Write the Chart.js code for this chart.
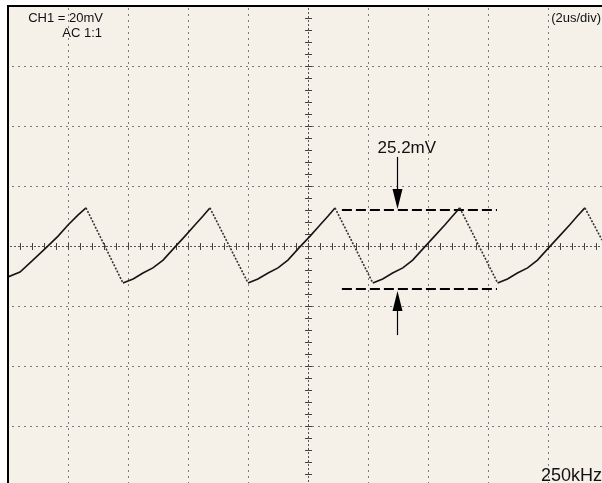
<!DOCTYPE html>
<html>
<head>
<meta charset="utf-8">
<script src="https://cdn.jsdelivr.net/npm/chart.js@4/dist/chart.umd.min.js"></script>
<style>
  html, body { margin: 0; padding: 0; background: #ffffff; overflow: hidden; }
  #wrap { position: absolute; left: 0; top: 0; width: 620px; height: 500px; }
</style>
</head>
<body>
<div id="wrap"><canvas id="c" width="620" height="500"></canvas></div>
<script>
// ---- data (time in µs, voltage in mV) ----
const timeUs = [
  0.00, 0.40, 0.83, 1.30, 1.67, 2.00, 2.33, 2.60,
  3.83, 4.17, 4.50, 4.83, 5.17, 5.57, 5.90, 6.23, 6.50, 6.73,
  8.00, 8.33, 8.67, 9.00, 9.33, 9.73, 10.07, 10.40, 10.67, 10.90,
  12.16, 12.49, 12.82, 13.16, 13.49, 13.89, 14.22, 14.56, 14.82, 15.06,
  16.32, 16.65, 16.98, 17.32, 17.65, 18.05, 18.38, 18.72, 18.98, 19.23,
  19.80
];
const voltMv = [
  -10.3, -8.7, -4.7, -0.3, 3.3, 7.0, 10.3, 12.7,
  -12.3, -11.0, -9.0, -7.3, -4.7, -0.3, 3.3, 7.0, 10.0, 12.7,
  -12.3, -11.0, -9.0, -7.3, -4.7, -0.3, 3.3, 7.0, 10.0, 12.7,
  -12.3, -11.0, -9.0, -7.3, -4.7, -0.3, 3.3, 7.0, 10.0, 12.7,
  -12.3, -11.0, -9.0, -7.3, -4.7, -0.3, 3.3, 7.0, 10.0, 12.7,
  2.0
];
// measurement cursors
const cursorSpanUs = [11.13, 16.30];
const cursorTopMv = 12.0;
const cursorBottomMv = -14.3;
const arrowXUs = 12.97;
const arrowTopFromMv = 29.7;
const arrowBottomFromMv = -29.7;
const measureLabel = '25.2mV';
// screen settings
const xRangeUs = [0, 20];      // 2us/div, 10 div
const yRangeMv = [-80, 80];    // 20mV/div, 8 div
const xDivUs = 2, yDivMv = 20;
const labels = { ch: 'CH1 = 20mV', coupling: 'AC 1:1', timebase: '(2us/div)', freq: '250kHz' };

const tracePoints = timeUs.map((t, i) => ({ x: t, y: voltMv[i] }));
const topCursor = cursorSpanUs.map(t => ({ x: t, y: cursorTopMv }));
const bottomCursor = cursorSpanUs.map(t => ({ x: t, y: cursorBottomMv }));

const FONT = '"Liberation Sans", Arial, sans-serif';

const scopePlugin = {
  id: 'scope',
  beforeDatasetsDraw(chart) {
    const { ctx, chartArea: a, scales: { x, y } } = chart;
    ctx.save();
    ctx.fillStyle = '#f5f1e9';
    ctx.fillRect(a.left, a.top, a.right - a.left, a.bottom - a.top);
    const cx = Math.round(x.getPixelForValue((xRangeUs[0] + xRangeUs[1]) / 2));
    const cy = Math.round(y.getPixelForValue(0));
    // dotted major grid
    ctx.strokeStyle = '#7a7a7a';
    ctx.lineWidth = 1;
    ctx.setLineDash([2, 4]);
    for (let t = xRangeUs[0] + xDivUs; t < xRangeUs[1] + 0.001; t += xDivUs) {
      const px = Math.round(x.getPixelForValue(t)) + 0.5;
      if (Math.abs(px - 0.5 - cx) < 1) continue;
      ctx.beginPath(); ctx.moveTo(px, a.top + 2); ctx.lineTo(px, a.bottom); ctx.stroke();
    }
    for (let v = yRangeMv[0] + yDivMv; v < yRangeMv[1]; v += yDivMv) {
      const py = Math.round(y.getPixelForValue(v)) + 0.5;
      if (Math.abs(py - 0.5 - cy) < 1) continue;
      ctx.beginPath(); ctx.moveTo(a.left + 4, py); ctx.lineTo(a.right, py); ctx.stroke();
    }
    // center cross, denser dots
    ctx.strokeStyle = '#555';
    ctx.setLineDash([2, 2]);
    ctx.beginPath(); ctx.moveTo(cx + 0.5, a.top + 2); ctx.lineTo(cx + 0.5, a.bottom); ctx.stroke();
    ctx.beginPath(); ctx.moveTo(a.left + 2, cy + 0.5); ctx.lineTo(a.right, cy + 0.5); ctx.stroke();
    // minor ticks on the center cross (5 per division)
    ctx.setLineDash([]);
    ctx.strokeStyle = '#444';
    for (let t = xRangeUs[0]; t <= xRangeUs[1] + 0.001; t += xDivUs / 5) {
      const px = Math.round(x.getPixelForValue(t)) + 0.5;
      ctx.beginPath(); ctx.moveTo(px, cy - 3); ctx.lineTo(px, cy + 4); ctx.stroke();
    }
    for (let v = yRangeMv[0]; v <= yRangeMv[1] + 0.001; v += yDivMv / 5) {
      const py = Math.round(y.getPixelForValue(v)) + 0.5;
      ctx.beginPath(); ctx.moveTo(cx - 3, py); ctx.lineTo(cx + 4, py); ctx.stroke();
    }
    ctx.restore();
  },
  afterDatasetsDraw(chart) {
    const { ctx, chartArea: a, scales: { x, y } } = chart;
    ctx.save();
    // arrows
    const ax = Math.round(x.getPixelForValue(arrowXUs)) + 0.5;
    const topTip = y.getPixelForValue(cursorTopMv) - 1;
    const botTip = y.getPixelForValue(cursorBottomMv) + 2;
    ctx.strokeStyle = '#000'; ctx.fillStyle = '#000'; ctx.lineWidth = 1.2;
    ctx.beginPath(); ctx.moveTo(ax, y.getPixelForValue(arrowTopFromMv)); ctx.lineTo(ax, topTip - 18); ctx.stroke();
    ctx.beginPath(); ctx.moveTo(ax - 5, topTip - 20); ctx.lineTo(ax + 5, topTip - 20); ctx.lineTo(ax, topTip); ctx.closePath(); ctx.fill();
    ctx.beginPath(); ctx.moveTo(ax, y.getPixelForValue(arrowBottomFromMv)); ctx.lineTo(ax, botTip + 18); ctx.stroke();
    ctx.beginPath(); ctx.moveTo(ax - 5, botTip + 20); ctx.lineTo(ax + 5, botTip + 20); ctx.lineTo(ax, botTip); ctx.closePath(); ctx.fill();
    // measurement text
    ctx.fillStyle = '#111';
    ctx.textBaseline = 'alphabetic';
    ctx.font = '17px ' + FONT;
    ctx.textAlign = 'left';
    ctx.fillText(measureLabel, ax - 20, topTip - 56);
    // on-screen labels
    ctx.font = '13px ' + FONT;
    ctx.textAlign = 'right';
    ctx.fillText(labels.ch, a.left + 95, a.top + 16);
    ctx.fillText(labels.coupling, a.left + 94, a.top + 31);
    ctx.fillText(labels.timebase, a.left + 593, a.top + 16);
    ctx.font = '18px ' + FONT;
    ctx.fillText(labels.freq, a.left + 594, a.top + 475);
    // frame (left and top edges)
    ctx.fillStyle = '#000';
    ctx.fillRect(a.left - 1, a.top - 1, 2, a.bottom - a.top + 1);
    ctx.fillRect(a.left - 1, a.top - 1, a.right - a.left + 1, 2);
    ctx.restore();
  }
};

new Chart(document.getElementById('c'), {
  type: 'line',
  data: {
    datasets: [
      {
        data: tracePoints,
        borderColor: '#151515',
        borderWidth: 1.6,
        pointRadius: 0,
        tension: 0,
        segment: {
          borderDash: c => (c.p1.parsed.y < c.p0.parsed.y ? [2, 1.5] : undefined),
          borderColor: c => (c.p1.parsed.y < c.p0.parsed.y ? '#333' : undefined)
        }
      },
      { data: topCursor, borderColor: '#000', borderWidth: 2, borderDash: [10, 4], pointRadius: 0 },
      { data: bottomCursor, borderColor: '#000', borderWidth: 2, borderDash: [10, 4], pointRadius: 0 }
    ]
  },
  options: {
    responsive: false,
    animation: false,
    events: [],
    layout: { padding: { left: 8, top: 6, right: 12, bottom: 14 } },
    plugins: { legend: { display: false }, tooltip: { enabled: false } },
    scales: {
      x: { type: 'linear', min: xRangeUs[0], max: xRangeUs[1], display: false },
      y: { type: 'linear', min: yRangeMv[0], max: yRangeMv[1], display: false }
    }
  },
  plugins: [scopePlugin]
});
</script>
</body>
</html>
